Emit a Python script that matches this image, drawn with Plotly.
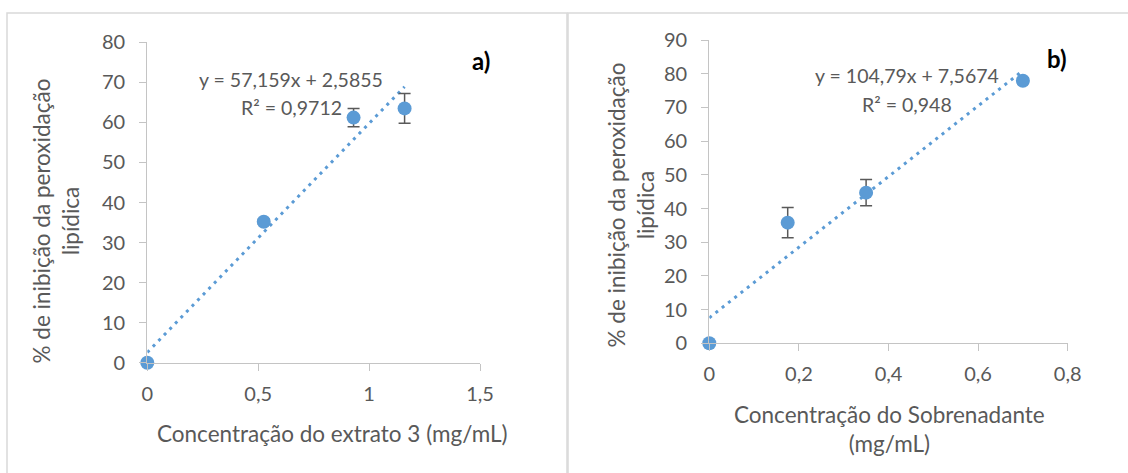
import plotly.graph_objects as go

W, H = 1128, 473

# ---- data panel a) ----
xa = [0, 0.525, 0.93, 1.16]
ya = [0, 35.2, 61.2, 63.5]
ea = [0, 0.6, 2.3, 3.7]
slope_a, icpt_a = 57.159, 2.5855
eq_a = ["y = 57,159x + 2,5855", "R² = 0,9712"]

# ---- data panel b) ----
xb = [0, 0.175, 0.35, 0.70]
yb = [0, 35.8, 44.7, 77.9]
eb = [0, 4.5, 3.9, 0.8]
slope_b, icpt_b = 104.79, 7.5674
eq_b = ["y = 104,79x + 7,5674", "R² = 0,948"]

ytitle = "% de inibição da peroxidação<br>lipídica"
xtitle_a = "Concentração do extrato 3 (mg/mL)"
xtitle_b = "Concentração do Sobrenadante<br>(mg/mL)"

BLUE = "#5B9BD5"
GREY = "#595959"
AXC = "#c4c4c4"
FONT = "Lato"


def px(x):
    return x / W


def py(y):
    return 1 - y / H


fig = go.Figure()

for xs, ys, es, m, c, xa_, ya_ in [
    (xa, ya, ea, slope_a, icpt_a, "x", "y"),
    (xb, yb, eb, slope_b, icpt_b, "x2", "y2"),
]:
    tx = [min(xs), max(xs)]
    ty = [m * v + c for v in tx]
    fig.add_trace(go.Scatter(x=tx, y=ty, mode="lines", xaxis=xa_, yaxis=ya_,
                             line=dict(color=BLUE, width=3, dash="3px,5px"),
                             showlegend=False, hoverinfo="skip", cliponaxis=False))
    fig.add_trace(go.Scatter(x=xs, y=ys, mode="markers", xaxis=xa_, yaxis=ya_,
                             marker=dict(color=BLUE, size=14),
                             error_y=dict(type="data", array=es, color=GREY,
                                          thickness=1.5, width=6),
                             showlegend=False, cliponaxis=False))

axis_common = dict(showline=True, linecolor=AXC, linewidth=1.3, ticks="outside",
                   ticklen=7, tickcolor=AXC, tickwidth=1.3, showgrid=False,
                   zeroline=False, automargin=False,
                   tickfont=dict(family=FONT, size=20, color=GREY))

fig.update_layout(
    template="none",
    width=W, height=H, margin=dict(l=0, r=0, t=0, b=0, pad=0, autoexpand=False),
    plot_bgcolor="white", paper_bgcolor="white", separators=",.",
    showlegend=False,
    xaxis=dict(domain=[px(147.3), px(480)], range=[0, 1.5], dtick=0.5,
               anchor="y", ticklabelstandoff=6, **axis_common),
    yaxis=dict(domain=[py(362.7), py(42.3)], range=[0, 80], dtick=10,
               anchor="x", ticklabelstandoff=10, **axis_common),
    xaxis2=dict(domain=[px(709.3), px(1067.7)], range=[0, 0.8], dtick=0.2,
                anchor="y2", ticklabelstandoff=6, **axis_common),
    yaxis2=dict(domain=[py(343.3), py(40)], range=[0, 90], dtick=10,
                anchor="x2", ticklabelstandoff=10, **axis_common),
)

# chart-area borders
fig.add_shape(type="rect", xref="paper", yref="paper", x0=px(7), x1=px(567),
              y0=-0.1, y1=py(13), line=dict(color="#d9d9d9", width=1.5))
fig.add_shape(type="rect", xref="paper", yref="paper", x0=px(568), x1=1.1,
              y0=-0.1, y1=py(13), line=dict(color="#d9d9d9", width=1.5))


def ann(text, x, y, size=22.5, color=GREY, angle=0, bold=False):
    if bold:
        text = "<b>" + text + "</b>"
    fig.add_annotation(text=text, xref="paper", yref="paper", x=px(x), y=py(y),
                       xanchor="center", yanchor="middle", showarrow=False,
                       textangle=angle, font=dict(family=FONT, size=size, color=color))


ann(ytitle, 55, 221.5, angle=-90)
ann(ytitle, 631, 205.5, angle=-90)
ann(xtitle_a, 332, 433)
ann(xtitle_b, 889, 429)
ann(eq_a[0], 290.5, 79, size=19.5)
ann(eq_a[1], 291, 107, size=19.5)
ann(eq_b[0], 906.5, 75, size=19.5)
ann(eq_b[1], 906.7, 104, size=19.5)
ann("a)", 481, 60, size=24, color="black", bold=True)
ann("b)", 1056.7, 58, size=24, color="black", bold=True)

fig.write_html("out.html")
